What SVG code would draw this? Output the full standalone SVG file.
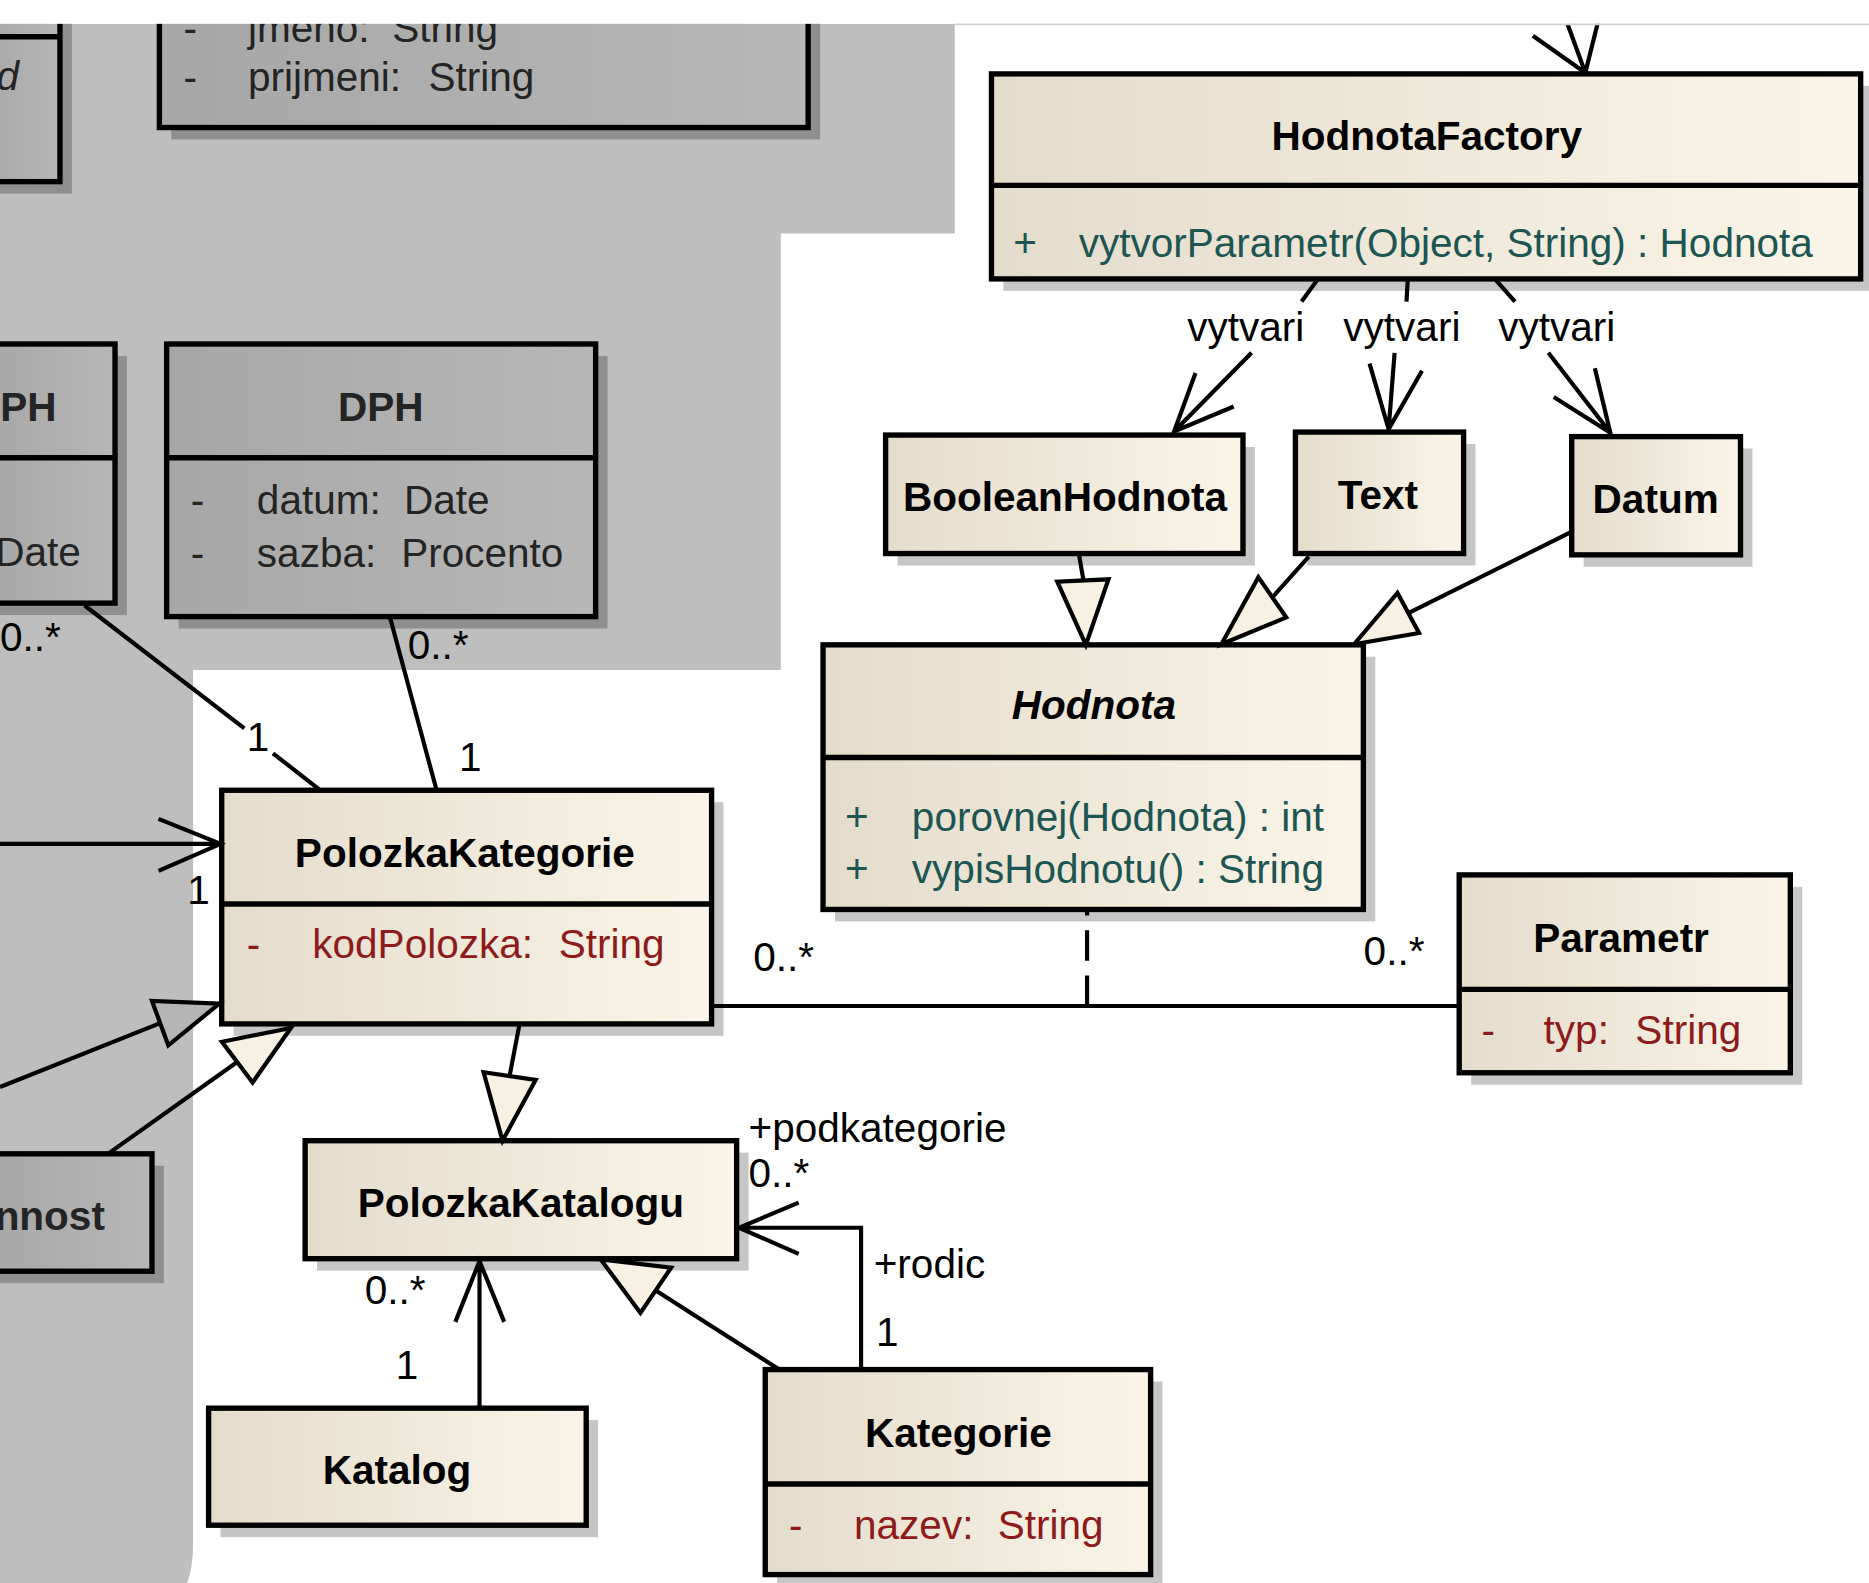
<svg xmlns="http://www.w3.org/2000/svg" width="1869" height="1583" viewBox="0 0 1869 1583">
<defs>
<linearGradient id="gc" x1="0" y1="0" x2="1" y2="0">
<stop offset="0" stop-color="#e4dccb"/>
<stop offset="1" stop-color="#faf5e8"/>
</linearGradient>
<linearGradient id="gg" x1="0" y1="0" x2="1" y2="0">
<stop offset="0" stop-color="#a7a7a7"/>
<stop offset="1" stop-color="#b7b7b7"/>
</linearGradient>
<style>
.bgg{fill:#bebebe}
.box{stroke:#000;stroke-width:4.5}
.cream{fill:url(#gc)}
.grey{fill:url(#gg)}
.shw{fill:#c6c6c6}
.shg{fill:#8f8f8f}
.div{stroke:#000;stroke-width:4.5}
.t{font-family:"Liberation Sans",Arial,Helvetica,sans-serif;font-size:34px;fill:#000}
.title{text-anchor:middle;font-weight:bold}
.attr{fill:#8e1b1b}
.op{fill:#1c5552}
.gt{fill:#242424}
.ln{stroke:#000;stroke-width:3.5;fill:none}
.dash{stroke:#000;stroke-width:3.5;fill:none;stroke-dasharray:25.5 12.5}
.tri{stroke:#000;stroke-width:3.5;fill:#f6f1e3}
.trig{stroke:#000;stroke-width:3.5;fill:#b5b5b5}
</style>
</defs>
<rect x="0" y="0" width="1869" height="1583" fill="#fff"/>
<g transform="scale(1.19196)">
<path class="bgg" d="M0,20 H801 V196 H655 V562 H162 V1295 Q162,1315 157,1328 H0 Z"/>

<g id="node-topleft">
<rect class="shg" x="0" y="10" width="60.3" height="152.4"/>
<rect class="grey box" x="-10" y="-5" width="60.3" height="157.4"/>
<line class="div" x1="-10" y1="30.8" x2="50.3" y2="30.8"/>
<text class="t gt" x="-3" y="75.5" font-style="italic">d</text>
</g>

<g id="node-osoba">
<rect class="shg" x="143.7" y="10" width="544.3" height="107"/>
<rect class="grey box" x="133.7" y="-5" width="544.3" height="112"/>
<text class="t gt" x="154" y="35">-</text>
<text class="t gt" x="208" y="35">jmeno:</text>
<text class="t gt" x="329" y="35">String</text>
<text class="t gt" x="154" y="76">-</text>
<text class="t gt" x="208" y="76">prijmeni:</text>
<text class="t gt" x="359.5" y="76">String</text>
</g>

<g id="node-dph-left">
<rect class="shg" x="0" y="298.6" width="106.5" height="217.4"/>
<rect class="grey box" x="-10" y="288.6" width="106.5" height="217.4"/>
<line class="div" x1="-10" y1="384" x2="96.5" y2="384"/>
<text class="t gt" x="47.5" y="353" font-weight="bold" text-anchor="end">PH</text>
<text class="t gt" x="-4" y="475">Date</text>
</g>

<g id="node-dph">
<rect class="shg" x="149.8" y="298.6" width="359.9" height="228.7"/>
<rect class="grey box" x="139.8" y="288.6" width="359.9" height="228.7"/>
<line class="div" x1="139.8" y1="384" x2="499.7" y2="384"/>
<text class="t title gt" x="319.5" y="353">DPH</text>
<text class="t gt" x="160" y="431">-</text>
<text class="t gt" x="215.5" y="431">datum:</text>
<text class="t gt" x="339" y="431">Date</text>
<text class="t gt" x="160" y="476">-</text>
<text class="t gt" x="215.5" y="476">sazba:</text>
<text class="t gt" x="336.6" y="476">Procento</text>
</g>

<g id="node-nnost">
<rect class="shg" x="0" y="978" width="137.5" height="98.5"/>
<rect class="grey box" x="-10" y="968" width="137.5" height="98.5"/>
<text class="t gt" x="88" y="1032" font-weight="bold" text-anchor="end">nnost</text>
</g>

<g id="node-hodnotafactory">
<rect class="shw" x="841.8" y="72" width="729.2" height="172"/>
<rect class="cream box" x="831.8" y="62" width="729.2" height="172"/>
<line class="div" x1="831.8" y1="155.5" x2="1561" y2="155.5"/>
<text class="t title" x="1197" y="126">HodnotaFactory</text>
<text class="t op" x="850" y="216">+</text>
<text class="t op" x="905" y="216">vytvorParametr(Object, String) : Hodnota</text>
</g>

<g id="node-booleanhodnota">
<rect class="shw" x="753" y="375" width="299.8" height="99.4"/>
<rect class="cream box" x="743" y="365" width="299.8" height="99.4"/>
<text class="t title" x="893.5" y="429">BooleanHodnota</text>
</g>

<g id="node-text">
<rect class="shw" x="1096.8" y="372.5" width="141.1" height="101.9"/>
<rect class="cream box" x="1086.8" y="362.5" width="141.1" height="101.9"/>
<text class="t title" x="1156" y="427">Text</text>
</g>

<g id="node-datum">
<rect class="shw" x="1328.6" y="376.3" width="141.6" height="99.2"/>
<rect class="cream box" x="1318.6" y="366.3" width="141.6" height="99.2"/>
<text class="t title" x="1389" y="430">Datum</text>
</g>

<g id="node-hodnota">
<rect class="shw" x="700.5" y="551" width="453.3" height="222"/>
<rect class="cream box" x="690.5" y="541" width="453.3" height="222"/>
<line class="div" x1="690.5" y1="635.5" x2="1143.8" y2="635.5"/>
<text class="t title" x="917.8" y="603" font-style="italic">Hodnota</text>
<text class="t op" x="709" y="697.5">+</text>
<text class="t op" x="765" y="697.5">porovnej(Hodnota) : int</text>
<text class="t op" x="709" y="741">+</text>
<text class="t op" x="765" y="741">vypisHodnotu() : String</text>
</g>

<g id="node-parametr">
<rect class="shw" x="1234.2" y="744" width="277.8" height="166"/>
<rect class="cream box" x="1224.2" y="734" width="277.8" height="166"/>
<line class="div" x1="1224.2" y1="830" x2="1502" y2="830"/>
<text class="t title" x="1360" y="799">Parametr</text>
<text class="t attr" x="1243" y="876">-</text>
<text class="t attr" x="1295" y="876">typ:</text>
<text class="t attr" x="1372" y="876">String</text>
</g>

<g id="node-polozkakategorie">
<rect class="shw" x="196" y="673" width="411" height="196"/>
<rect class="cream box" x="186" y="663" width="411" height="196"/>
<line class="div" x1="186" y1="758.4" x2="597" y2="758.4"/>
<text class="t title" x="390" y="727">PolozkaKategorie</text>
<text class="t attr" x="207" y="804">-</text>
<text class="t attr" x="262" y="804">kodPolozka:</text>
<text class="t attr" x="468.7" y="804">String</text>
</g>

<g id="node-polozkakatalogu">
<rect class="shw" x="266" y="967" width="362" height="99"/>
<rect class="cream box" x="256" y="957" width="362" height="99"/>
<text class="t title" x="437" y="1021">PolozkaKatalogu</text>
</g>

<g id="node-katalog">
<rect class="shw" x="185" y="1191.4" width="316.8" height="98.2"/>
<rect class="cream box" x="175" y="1181.4" width="316.8" height="98.2"/>
<text class="t title" x="333" y="1245">Katalog</text>
</g>

<g id="node-kategorie">
<rect class="shw" x="652" y="1159" width="323.3" height="172"/>
<rect class="cream box" x="642" y="1149" width="323.3" height="172"/>
<line class="div" x1="642" y1="1245" x2="965.3" y2="1245"/>
<text class="t title" x="804" y="1214">Kategorie</text>
<text class="t attr" x="662" y="1291">-</text>
<text class="t attr" x="716.5" y="1291">nazev:</text>
<text class="t attr" x="837" y="1291">String</text>
</g>

<g id="connectors">
<path class="ln" d="M1315,20 L1330,61 M1286,30 L1330,61 L1343,9"/>
<path class="ln" d="M1105,235 L1092,253 M1050,296 L985,362 M1003,313 L985,362 L1035,341"/>
<path class="ln" d="M1181,235 L1180,253 M1170,296 L1165,360 M1149,305 L1165,360 L1193,311"/>
<path class="ln" d="M1255,235 L1271,253 M1299,296 L1351,363 M1303.5,333 L1351,363 L1338,309"/>
<path class="ln" d="M905,464 L909,487"/>
<polygon class="tri" points="911,541 887,488 930,486"/>
<path class="ln" d="M1098,467 L1067.4,501.1"/>
<polygon class="tri" points="1024.7,540.5 1055.7,484.2 1079.1,518"/>
<path class="ln" d="M1317.5,446.7 L1181.5,514.3"/>
<polygon class="tri" points="1136,540.5 1172.4,497.4 1190.5,531.1"/>
<path class="ln" d="M597,844 L1224,844"/>
<path class="dash" d="M912,844 L912,763"/>
<path class="ln" d="M71,508 L205,611 M229,632 L267.5,662"/>
<path class="ln" d="M327.4,518.7 L366,662"/>
<path class="ln" d="M0,708 L185,708 M133,687 L185,708 L133,730.6"/>
<path class="ln" d="M0,912 L134.4,858.4"/>
<polygon class="trig" points="184,842 127.5,839.7 141.2,877"/>
<path class="ln" d="M92,967 L199,891"/>
<polygon class="tri" points="244,862.4 186.2,874 211.9,908.2"/>
<path class="ln" d="M435.7,860 L427.5,902.8"/>
<polygon class="tri" points="421.6,957 405.7,899.6 449.4,906"/>
<path class="ln" d="M402.3,1182 L402.3,1058 M382,1109 L402.3,1058 L423,1109"/>
<path class="ln" d="M722.4,1149 L722.4,1030 L620,1030 M670,1009 L620,1030 L670,1052"/>
<path class="ln" d="M653.9,1149 L550.2,1082.6"/>
<polygon class="tri" points="504,1056.6 563,1063.6 537.3,1101.5"/>
</g>

<g id="labels">
<text class="t" x="996" y="286.5">vytvari</text>
<text class="t" x="1127" y="286.5">vytvari</text>
<text class="t" x="1257" y="286.5">vytvari</text>
<text class="t" x="0" y="546">0..*</text>
<text class="t" x="207" y="630">1</text>
<text class="t" x="342" y="553">0..*</text>
<text class="t" x="385" y="647">1</text>
<text class="t" x="157" y="758">1</text>
<text class="t" x="632" y="815">0..*</text>
<text class="t" x="1144" y="810">0..*</text>
<text class="t" x="628" y="958">+podkategorie</text>
<text class="t" x="628" y="996">0..*</text>
<text class="t" x="733" y="1072">+rodic</text>
<text class="t" x="735" y="1129.5">1</text>
<text class="t" x="306" y="1094">0..*</text>
<text class="t" x="332" y="1157">1</text>
</g>

<rect x="0" y="0" width="1570" height="20" fill="#fff"/>
<line x1="801" y1="20.5" x2="1570" y2="20.5" stroke="#cfcfcf" stroke-width="1.5"/>
</g>
</svg>
